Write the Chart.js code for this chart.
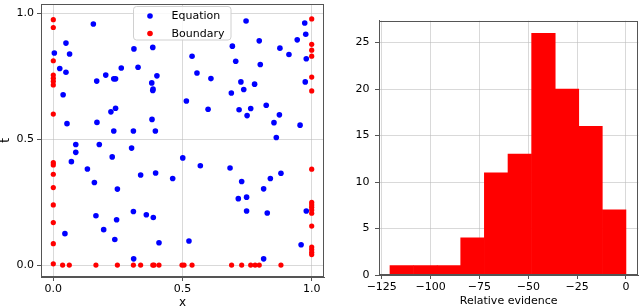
<!DOCTYPE html>
<html><head><meta charset="utf-8">
<script src="https://cdn.jsdelivr.net/npm/chart.js@4.4.1/dist/chart.umd.min.js"></script>
<style>
html,body{margin:0;padding:0;background:#fff;width:640px;height:308px;overflow:hidden}
#w1{position:absolute;left:0;top:0;width:330px;height:308px}
#w2{position:absolute;left:330px;top:0;width:310px;height:308px}
</style></head><body>
<div id="w1"><canvas id="c1"></canvas></div>
<div id="w2"><canvas id="c2"></canvas></div>
<script>
// ---- Left panel: collocation points ----
const seriesNames = ['Equation', 'Boundary'];
const eqX = [0.155,0.049,0.004,0.063,0.025,0.049,0.168,0.203,0.234,0.241,0.263,0.312,0.328,0.385,0.401,0.381,0.386,0.385,0.038,0.223,0.241,0.169,0.053,0.234,0.310,0.382,0.395,0.087,0.178,0.303,
  0.746,0.973,0.977,0.944,0.797,0.693,0.877,0.912,0.537,0.979,0.706,0.801,0.556,0.610,0.726,0.779,0.975,0.737,0.689,0.515,0.599,0.719,0.764,0.824,0.750,0.875,0.854,0.955,0.863,
  0.087,0.070,0.132,0.228,0.338,0.396,0.159,0.248,0.310,0.360,0.387,0.165,0.245,0.045,0.195,0.238,0.409,0.311,
  0.501,0.569,0.684,0.462,0.729,0.840,0.881,0.814,0.716,0.748,0.748,0.828,0.979,0.525,0.959,0.814];
const eqY = [0.958,0.882,0.843,0.839,0.781,0.766,0.731,0.755,0.740,0.740,0.783,0.859,0.786,0.865,0.752,0.724,0.700,0.694,0.677,0.609,0.623,0.567,0.562,0.533,0.533,0.579,0.533,0.479,0.479,0.465,
  0.970,0.962,0.917,0.895,0.891,0.870,0.862,0.837,0.830,0.820,0.810,0.797,0.763,0.741,0.728,0.719,0.728,0.698,0.684,0.652,0.619,0.617,0.622,0.635,0.594,0.597,0.566,0.556,0.507,
  0.448,0.411,0.382,0.430,0.358,0.366,0.328,0.302,0.213,0.200,0.189,0.196,0.180,0.125,0.141,0.102,0.089,0.025,
  0.426,0.395,0.386,0.344,0.332,0.344,0.365,0.303,0.264,0.270,0.215,0.207,0.215,0.096,0.081,0.025];
const bdX = [0,0,0,0,0,0,0,0,0,0,0,0,0,0,0,0,
  1,1,1,1,1,1,1,1,1,1,1,1,1,1,1,1,1,
  0.036,0.062,0.165,0.248,0.310,0.338,0.385,0.390,0.409,0.498,0.506,0.537,0.690,0.729,0.764,0.781,0.797,0.881];
const bdY = [0.975,0.944,0.812,0.755,0.742,0.730,0.716,0.600,0.407,0.398,0.361,0.308,0.239,0.169,0.085,0.005,
  0.978,0.877,0.854,0.830,0.747,0.692,0.381,0.249,0.239,0.230,0.219,0.206,0.155,0.072,0.062,0.051,0.042,
  0,0,0,0,0,0,0,0,0,0,0,0,0,0,0,0,0,0];
const leftTicks = [0, 0.5, 1.0];

// ---- Right panel: histogram ----
const binEdges = [-120.8,-108.7,-96.6,-84.6,-72.5,-60.4,-48.3,-36.2,-24.2,-12.1,0];
const binCounts = [1,1,1,4,11,13,26,20,16,7];
const histXTicks = [-125,-100,-75,-50,-25,0];
const histYTicks = [0,5,10,15,20,25];

const FAM = "'DejaVu Sans', 'Liberation Sans', sans-serif";
Chart.defaults.font.family = FAM;
Chart.defaults.font.size = 11;
Chart.defaults.color = '#000';
const GRID = 'rgba(185,185,185,0.55)';
const SPINE = '#555';

const frame = {
  id: 'frame',
  afterDraw(chart) {
    const {ctx, chartArea: a} = chart;
    ctx.save();
    ctx.strokeStyle = SPINE; ctx.lineWidth = 1;
    ctx.strokeRect(Math.round(a.left) + 0.5, Math.round(a.top) + 0.5, Math.round(a.right - a.left) - 1, Math.round(a.bottom - a.top) - 1);
    ctx.restore();
  }
};

const legendBox = {
  id: 'legendBox',
  afterDraw(chart) {
    const ctx = chart.ctx;
    const x = 133.5, y = 6.5, w = 97.5, h = 33.5, r = 3;
    ctx.save();
    ctx.beginPath();
    ctx.moveTo(x + r, y); ctx.lineTo(x + w - r, y); ctx.quadraticCurveTo(x + w, y, x + w, y + r);
    ctx.lineTo(x + w, y + h - r); ctx.quadraticCurveTo(x + w, y + h, x + w - r, y + h);
    ctx.lineTo(x + r, y + h); ctx.quadraticCurveTo(x, y + h, x, y + h - r);
    ctx.lineTo(x, y + r); ctx.quadraticCurveTo(x, y, x + r, y); ctx.closePath();
    ctx.fillStyle = 'rgba(255,255,255,0.85)'; ctx.fill();
    ctx.strokeStyle = '#d0d0d0'; ctx.lineWidth = 1; ctx.stroke();
    chart.data.datasets.forEach((ds, i) => {
      const cy = 16 + i * 17.5;
      ctx.beginPath(); ctx.arc(150, cy, 2.8, 0, Math.PI * 2);
      ctx.fillStyle = ds.backgroundColor; ctx.fill();
      ctx.fillStyle = '#000'; ctx.font = '11px ' + FAM; ctx.textBaseline = 'middle'; ctx.textAlign = 'left';
      ctx.fillText(ds.label, 171.5, cy + 0.5);
    });
    ctx.restore();
  }
};

new Chart(document.getElementById('c1'), {
  type: 'scatter',
  data: {
    datasets: [
      {label: seriesNames[0], data: eqX.map((v, i) => ({x: v, y: eqY[i]})), backgroundColor: '#0000ff', borderWidth: 0, pointRadius: 2.8},
      {label: seriesNames[1], data: bdX.map((v, i) => ({x: v, y: bdY[i]})), backgroundColor: '#ff0000', borderWidth: 0, pointRadius: 2.6}
    ]
  },
  options: {
    responsive: true, maintainAspectRatio: false, animation: false, devicePixelRatio: 1,
    layout: {padding: {left: 0, right: 6, top: 1.5, bottom: 0}},
    plugins: {legend: {display: false}, tooltip: {enabled: false}},
    scales: {
      x: {
        type: 'linear', min: -0.0476, max: 1.0476,
        afterBuildTicks(s) { s.ticks = leftTicks.map(v => ({value: v})); },
        afterFit(s) { s.height = 31; s.paddingLeft = 0; s.paddingRight = 0; },
        ticks: {callback: v => Number(v).toFixed(1), padding: 2, maxRotation: 0, color: '#000'},
        grid: {color: GRID, tickColor: SPINE, tickLength: 4},
        border: {color: SPINE},
        title: {display: true, text: 'x', font: {size: 12}, padding: {top: 0, bottom: -2}, color: '#000'}
      },
      y: {
        type: 'linear', min: -0.0472, max: 1.0374,
        afterBuildTicks(s) { s.ticks = leftTicks.map(v => ({value: v})); },
        afterFit(s) { s.width = 41; s.paddingTop = 0; s.paddingBottom = 0; },
        ticks: {callback: v => Number(v).toFixed(1), padding: 3, color: '#000'},
        grid: {color: GRID, tickColor: SPINE, tickLength: 4},
        border: {color: SPINE},
        title: {display: true, text: 't', font: {size: 12}, padding: {top: -1, bottom: 0}, color: '#000'}
      }
    }
  },
  plugins: [frame, legendBox]
});

const fmtMinus = v => (v < 0 ? '\u2212' + Math.abs(v) : String(v));
const centers = binCounts.map((c, i) => (binEdges[i] + binEdges[i + 1]) / 2);

new Chart(document.getElementById('c2'), {
  type: 'bar',
  data: {
    datasets: [{
      label: 'Relative evidence',
      data: binCounts.map((c, i) => ({x: centers[i], y: c})),
      backgroundColor: '#ff0000', borderWidth: 0,
      barPercentage: 1, categoryPercentage: 1
    }]
  },
  options: {
    responsive: true, maintainAspectRatio: false, animation: false, devicePixelRatio: 1,
    layout: {padding: {left: 0, right: 1.7, top: 20.7, bottom: 0}},
    plugins: {legend: {display: false}, tooltip: {enabled: false}},
    scales: {
      x: {
        type: 'linear', min: -126.4, max: 6.3, offset: false, z: 1,
        afterBuildTicks(s) { s.ticks = histXTicks.map(v => ({value: v})); },
        afterFit(s) { s.height = 33; s.paddingLeft = 0; s.paddingRight = 0; },
        ticks: {callback: v => fmtMinus(v), padding: 2, maxRotation: 0, color: '#000'},
        grid: {color: GRID, tickColor: SPINE, tickLength: 4, offset: false},
        border: {color: SPINE},
        title: {display: true, text: 'Relative evidence', padding: {top: 0, bottom: 0}, color: '#000'}
      },
      y: {
        type: 'linear', min: 0, max: 27.35, z: 1,
        afterBuildTicks(s) { s.ticks = histYTicks.map(v => ({value: v})); },
        afterFit(s) { s.width = 49; s.paddingTop = 0; s.paddingBottom = 0; },
        ticks: {padding: 5.5, color: '#000'},
        grid: {color: GRID, tickColor: SPINE, tickLength: 4},
        border: {color: SPINE}
      }
    }
  },
  plugins: [frame]
});
</script>
</body></html>
